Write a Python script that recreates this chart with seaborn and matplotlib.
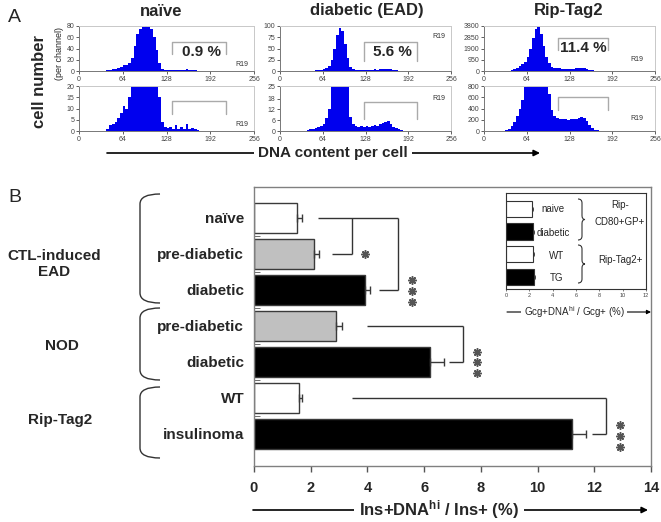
import numpy as np
import pandas as pd
import matplotlib
matplotlib.use("Agg")
import matplotlib.pyplot as plt
import seaborn as sns
from matplotlib.path import Path
from matplotlib.patches import PathPatch

# ---------------- data ----------------
channel_edges = list(range(0, 257, 4))

naive_counts = [0, 0, 0, 0, 0, 0, 0, 0, 0, 0,
                1, 2.5, 3, 4, 6, 8,
                11, 10, 15, 24, 45, 65, 74, 78, 80, 78, 74, 60, 38, 15, 4, 2,
                1.2, 2, 1, 2.5, 1, 2, 1, 3, 1, 1.5, 1, 0.6,
                0, 0, 0, 0, 0, 0, 0, 0, 0, 0, 0, 0, 0, 0, 0, 0, 0, 0, 0, 0]

diabetic_counts = [0, 0, 0, 0, 0, 0, 0, 0, 0, 0,
                   0.5, 1, 1, 1.5, 2, 3,
                   4, 7, 12, 25, 50, 80, 95, 88, 60, 28, 8, 4,
                   3, 2.5, 3, 2.5, 3, 2.5, 3, 3.5, 3, 4, 4.5, 5, 5.5, 4, 2.5, 1.5, 1, 0.5,
                   0, 0, 0, 0, 0, 0, 0, 0, 0, 0, 0, 0, 0, 0, 0, 0, 0, 0]

riptag_counts = [0, 0, 0, 0, 0, 0, 0,
                 3, 10, 40, 90, 160, 260, 400, 560, 780,
                 1200, 1900, 2800, 3550, 3750, 3100, 2100, 1200, 650, 380, 270, 230,
                 215, 210, 205, 200, 205, 210, 220, 235, 245, 235, 170, 100, 45, 20, 10, 6, 4, 3, 2, 1,
                 0, 0, 0, 0, 0, 0, 0, 0, 0, 0, 0, 0, 0, 0, 0, 0]

hist_titles = ["naïve", "diabetic (EAD)", "Rip-Tag2"]
hist_percent = ["0.9 %", "5.6 %", "11.4 %"]
x_channel_ticks = [0, 64, 128, 192, 256]
naive_yticks_top = [0, 20, 40, 60, 80]
naive_yticks_bot = [0, 5, 10, 15, 20]
diab_yticks_top = [0, 25, 50, 75, 100]
diab_yticks_bot = [0, 6, 12, 18, 25]
rip_yticks_top = [0, 950, 1900, 2850, 3800]
rip_yticks_bot = [0, 200, 400, 600, 800]

ins_keys = ["EAD naive", "EAD pre", "EAD diab", "NOD pre", "NOD diab", "RT2 WT", "RT2 ins"]
ins_labels = ["naïve", "pre-diabetic", "diabetic", "pre-diabetic", "diabetic", "WT", "insulinoma"]
ins_values = [1.5, 2.1, 3.9, 2.9, 6.2, 1.6, 11.2]
ins_errors = [0.18, 0.2, 0.18, 0.2, 0.5, 0.1, 0.5]
ins_colors = ["white", "#c0c0c0", "black", "#c0c0c0", "black", "white", "black"]
ins_xticks = [0, 2, 4, 6, 8, 10, 12, 14]

gcg_keys = ["naive", "diabetic", "WT", "TG"]
gcg_values = [2.2, 2.3, 2.3, 2.4]
gcg_errors = [0.15, 0.12, 0.12, 0.12]
gcg_colors = ["white", "black", "white", "black"]
gcg_xticks = [0, 2, 4, 6, 8, 10, 12]

group_names = ["CTL-induced\nEAD", "NOD", "Rip-Tag2"]

# ---------------- style ----------------
sns.set_style("white")
plt.rcParams["font.family"] = ["Liberation Sans", "DejaVu Sans"]
plt.rcParams["mathtext.fontset"] = "custom"
plt.rcParams["mathtext.rm"] = "Liberation Sans"
plt.rcParams["mathtext.bf"] = "Liberation Sans:bold"
plt.rcParams["mathtext.it"] = "Liberation Sans:italic"

W, H = 661, 522
fig = plt.figure(figsize=(W / 100, H / 100), dpi=100)


def px_axes(l, t, r, b):
    return fig.add_axes([l / W, 1 - b / H, (r - l) / W, (b - t) / H])


centers = np.array(channel_edges[:-1]) + 2

panels = [
    dict(counts=naive_counts, l=79, r=254, yt=(naive_yticks_top, naive_yticks_bot),
         br_top=(0.53, 0.84, 0.65, 0.37), br_bot=(0.53, 0.84, 0.67, 0.37), txt=(0.70, 0.43),
         r19_top=(0.97, 0.15), r19_bot=(0.97, 0.15), tx=161),
    dict(counts=diabetic_counts, l=280, r=451, yt=(diab_yticks_top, diab_yticks_bot),
         br_top=(0.49, 0.80, 0.64, 0.22), br_bot=(0.49, 0.80, 0.64, 0.27), txt=(0.66, 0.42),
         r19_top=(0.97, 0.76), r19_bot=(0.97, 0.73), tx=367),
    dict(counts=riptag_counts, l=484, r=655, yt=(rip_yticks_top, rip_yticks_bot),
         br_top=(0.43, 0.725, 0.74, 0.46), br_bot=(0.43, 0.725, 0.75, 0.47), txt=(0.58, 0.50),
         r19_top=(0.93, 0.26), r19_bot=(0.93, 0.27), tx=569),
]

rows = [(26, 71), (86, 131)]

for i, p in enumerate(panels):
    for j, (t, b) in enumerate(rows):
        ax = px_axes(p["l"], t, p["r"], b)
        sns.histplot(x=centers, weights=p["counts"], bins=channel_edges, element="step",
                     fill=True, color="#0000ee", alpha=1, linewidth=0, ax=ax)
        yt = p["yt"][j]
        ax.set_xlim(0, 256)
        ax.set_ylim(0, yt[-1])
        ax.set_xticks(x_channel_ticks)
        ax.set_yticks(yt)
        ax.set_xlabel("")
        ax.set_ylabel("")
        ax.tick_params(labelsize=5, length=2, width=0.6, colors="#444", pad=1.5,
                       bottom=True, left=True)
        for s in ["left", "bottom"]:
            ax.spines[s].set_color("#777")
            ax.spines[s].set_linewidth(0.7)
        for s in ["top", "right"]:
            ax.spines[s].set_color("#c8c8c8")
            ax.spines[s].set_linewidth(0.7)
        x0, x1, yt_, yb_ = p["br_top"] if j == 0 else p["br_bot"]
        ax.plot([x0, x0, x1, x1], [yb_, yt_, yt_, yb_], color="#aaaaaa", lw=1,
                transform=ax.transAxes, clip_on=False)
        rx, ry = p["r19_top"] if j == 0 else p["r19_bot"]
        ax.text(rx, ry, "R19", transform=ax.transAxes, ha="right", va="center",
                fontsize=5, color="#333")
        if j == 0:
            ax.text(p["txt"][0], p["txt"][1], hist_percent[i], transform=ax.transAxes,
                    ha="center", va="center", fontsize=11, fontweight="bold")

# ---------------- main bar chart ----------------
axb = px_axes(254, 187, 651, 466)
df_ins = pd.DataFrame({"key": ins_keys, "value": ins_values})
sns.barplot(data=df_ins, x="value", y="key", hue="key", order=ins_keys, hue_order=ins_keys,
            palette=ins_colors, legend=False, width=0.82, edgecolor="#3a3a3a", linewidth=1.0,
            orient="h", ax=axb, errorbar=None)
pos = np.arange(len(ins_keys))
axb.errorbar(ins_values, pos, xerr=[np.zeros(len(ins_errors)), ins_errors], fmt="none",
             ecolor="#3a3a3a", elinewidth=1, capsize=3.2, capthick=1)
axb.set_xlim(0, 14)
axb.set_ylim(6.89, -0.86)
axb.set_xticks(ins_xticks)
axb.set_yticks(pos)
axb.set_yticklabels(ins_labels, fontweight="bold", fontsize=11)
axb.set_yticks(np.arange(0.5, 6.0, 1), minor=True)
axb.tick_params(axis="y", which="major", length=0, pad=7, left=False)
axb.tick_params(axis="y", which="minor", direction="in", length=4, color="#555", left=True)
axb.tick_params(axis="x", length=4, width=1, direction="out", pad=7, labelsize=10.5,
                color="#555", bottom=True)
for lab in axb.get_xticklabels():
    lab.set_fontweight("bold")
axb.set_xlabel("")
axb.set_ylabel("")
for s in axb.spines.values():
    s.set_color("#808080")
    s.set_linewidth(1)

# significance brackets (x in data units, y in row positions)
brackets = [
    [(2.26, 0), (5.08, 0)], [(3.45, 0), (3.45, 1)], [(2.75, 1), (3.45, 1)],
    [(5.08, 0), (5.08, 2)], [(4.41, 2), (5.08, 2)],
    [(3.98, 3), (7.37, 3)], [(7.37, 3), (7.37, 4)], [(6.88, 4), (7.37, 4)],
    [(3.45, 5), (12.41, 5)], [(12.41, 5), (12.41, 6)], [(11.92, 6), (12.41, 6)],
]
for seg in brackets:
    axb.plot([seg[0][0], seg[1][0]], [seg[0][1], seg[1][1]], color="#333", lw=1,
             clip_on=False, solid_capstyle="butt")
star_x = [3.9, 5.57, 5.57, 5.57, 7.86, 7.86, 7.86, 12.9, 12.9, 12.9]
star_y = [1, 1.72, 2.03, 2.34, 3.72, 4.0, 4.3, 5.75, 6.06, 6.37]
axb.plot(star_x, star_y, linestyle="none", marker=(8, 2, 0), ms=6, mec="#555",
         mew=1.1, clip_on=False)

# ---------------- inset ----------------
axi = px_axes(506, 193, 646, 289)
df_g = pd.DataFrame({"key": gcg_keys, "value": gcg_values})
sns.barplot(data=df_g, x="value", y="key", hue="key", order=gcg_keys, hue_order=gcg_keys,
            palette=gcg_colors, legend=False, width=0.72, edgecolor="#333", linewidth=0.8,
            orient="h", ax=axi, errorbar=None)
gpos = np.arange(len(gcg_keys))
axi.errorbar(gcg_values, gpos, xerr=[np.zeros(len(gcg_errors)), gcg_errors], fmt="none",
             ecolor="#333", elinewidth=0.6, capsize=1.2, capthick=0.6)
axi.set_xlim(0, 12)
axi.set_ylim(3.53, -0.7)
axi.set_xticks(gcg_xticks)
axi.set_yticks([])
axi.set_xlabel("")
axi.set_ylabel("")
axi.tick_params(axis="x", labelsize=4, length=1.5, width=0.5, pad=1.5, bottom=True,
                colors="#444")
for s in axi.spines.values():
    s.set_color("#333")
    s.set_linewidth(0.8)

# ---------------- overlay (pixel coordinates) ----------------
ov = fig.add_axes([0, 0, 1, 1])
ov.set_xlim(0, W)
ov.set_ylim(H, 0)
ov.axis("off")
ov.set_zorder(10)
ov.patch.set_alpha(0)

ov.text(8, 17, "A", fontsize=14, ha="left", va="center")
ov.text(8, 197, "B", fontsize=14, ha="left", va="center")
for p, t in zip(panels, hist_titles):
    ov.text(p["tx"], 15.5, t, fontsize=12, fontweight="bold", ha="center", va="baseline")
ov.text(40, 81, "cell number", rotation=90, fontsize=12, fontweight="bold",
        ha="center", va="center")
ov.text(59, 53, "(per channel)", rotation=90, fontsize=6.5, ha="center", va="center")

arrow_kw = dict(arrowstyle="-|>", color="black", lw=1.2, mutation_scale=9,
                shrinkA=0, shrinkB=0)
ov.annotate("", xy=(540, 153), xytext=(107, 153), arrowprops=arrow_kw)
ov.text(333, 153, "DNA content per cell", fontsize=11, fontweight="bold", ha="center",
        va="center", bbox=dict(facecolor="white", edgecolor="none", pad=3))

ov.annotate("", xy=(648, 510), xytext=(253, 510), arrowprops=arrow_kw)
ov.text(439, 510, r"Ins+DNA$^{\mathbf{hi}}$ / Ins+ (%)", fontsize=12, fontweight="bold",
        ha="center", va="center", bbox=dict(facecolor="white", edgecolor="none", pad=4))

arrow_small = dict(arrowstyle="-|>", color="black", lw=0.8, mutation_scale=6,
                   shrinkA=0, shrinkB=0)
ov.annotate("", xy=(651, 312), xytext=(507, 312), arrowprops=arrow_small)
ov.text(574, 312, r"Gcg+DNA$^{\mathrm{hi}}$ / Gcg+ (%)", fontsize=7, ha="center",
        va="center", bbox=dict(facecolor="white", edgecolor="none", pad=2))


def left_brace(top, bot, xt=160, xb=140, r=10):
    verts = [(xt, top), (xb, top), (xb, top + r), (xb, bot - r), (xb, bot), (xt, bot)]
    codes = [Path.MOVETO, Path.CURVE3, Path.CURVE3, Path.LINETO, Path.CURVE3, Path.CURVE3]
    ov.add_patch(PathPatch(Path(verts, codes), fill=False, edgecolor="#333", lw=1))


def right_brace(top, bot, x0=578, x1=582, x2=585, r=4):
    m = (top + bot) / 2
    verts = [(x0, top), (x1, top), (x1, top + r), (x1, m - r), (x1, m), (x2, m),
             (x1, m), (x1, m + r), (x1, bot - r), (x1, bot), (x0, bot)]
    codes = [Path.MOVETO, Path.CURVE3, Path.CURVE3, Path.LINETO, Path.CURVE3, Path.CURVE3,
             Path.CURVE3, Path.CURVE3, Path.LINETO, Path.CURVE3, Path.CURVE3]
    ov.add_patch(PathPatch(Path(verts, codes), fill=False, edgecolor="#333", lw=0.8))


left_brace(194, 303)
left_brace(308, 380)
left_brace(387, 458)
ov.text(54, 264, group_names[0], fontsize=11, fontweight="bold", ha="center", va="center",
        linespacing=1.2)
ov.text(62, 346, group_names[1], fontsize=11, fontweight="bold", ha="center", va="center")
ov.text(60, 420, group_names[2], fontsize=11, fontweight="bold", ha="center", va="center")

right_brace(199, 240)
right_brace(245, 283)
ov.text(541, 209, gcg_keys[0], fontsize=7, ha="left", va="center")
ov.text(537, 233, gcg_keys[1], fontsize=7, ha="left", va="center")
ov.text(557, 256, gcg_keys[2], fontsize=7, ha="center", va="center")
ov.text(557, 278, gcg_keys[3], fontsize=7, ha="center", va="center")
ov.text(620, 205, "Rip-", fontsize=7, ha="center", va="center")
ov.text(620, 222, "CD80+GP+", fontsize=7, ha="center", va="center")
ov.text(620, 260, "Rip-Tag2+", fontsize=7, ha="center", va="center")

fig.savefig("out.png", dpi=100)
